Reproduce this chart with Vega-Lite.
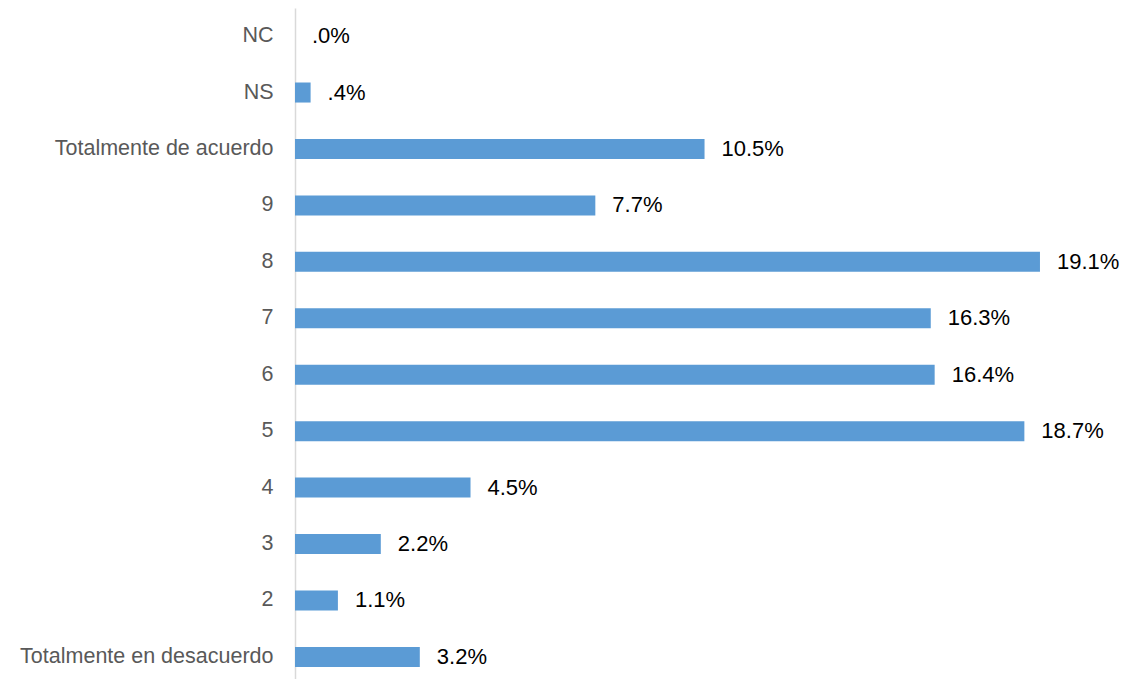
{
  "$schema": "https://vega.github.io/schema/vega-lite/v6.json",
  "autosize": "none",
  "width": 830,
  "height": 677,
  "padding": {"left": 295, "top": 8, "right": 0, "bottom": 0},
  "background": "white",
  "config": {"view": {"stroke": null}},
  "data": {
    "values": [
      {"category": "NC", "value": 0.0, "label": ".0%"},
      {"category": "NS", "value": 0.4, "label": ".4%"},
      {"category": "Totalmente de acuerdo", "value": 10.5, "label": "10.5%"},
      {"category": "9", "value": 7.7, "label": "7.7%"},
      {"category": "8", "value": 19.1, "label": "19.1%"},
      {"category": "7", "value": 16.3, "label": "16.3%"},
      {"category": "6", "value": 16.4, "label": "16.4%"},
      {"category": "5", "value": 18.7, "label": "18.7%"},
      {"category": "4", "value": 4.5, "label": "4.5%"},
      {"category": "3", "value": 2.2, "label": "2.2%"},
      {"category": "2", "value": 1.1, "label": "1.1%"},
      {"category": "Totalmente en desacuerdo", "value": 3.2, "label": "3.2%"}
    ]
  },
  "encoding": {
    "y": {
      "field": "category",
      "type": "nominal",
      "sort": null,
      "scale": {"paddingInner": 0.645, "paddingOuter": 0.32},
      "axis": {
        "title": null,
        "ticks": false,
        "domainColor": "#d9d9d9",
        "domainWidth": 1.5,
        "labelFont": "Liberation Sans",
        "labelFontSize": 21.5,
        "labelColor": "#595959",
        "labelPadding": 22,
        "labelLimit": 400,
        "grid": false
      }
    },
    "x": {
      "field": "value",
      "type": "quantitative",
      "scale": {"domain": [0, 21.28], "nice": false, "zero": true},
      "axis": null
    }
  },
  "layer": [
    {"mark": {"type": "bar", "color": "#5b9bd5"}},
    {
      "mark": {"type": "text", "align": "left", "baseline": "middle", "dx": 17, "font": "Liberation Sans", "fontSize": 22, "color": "#000000"},
      "encoding": {"text": {"field": "label"}}
    }
  ]
}
